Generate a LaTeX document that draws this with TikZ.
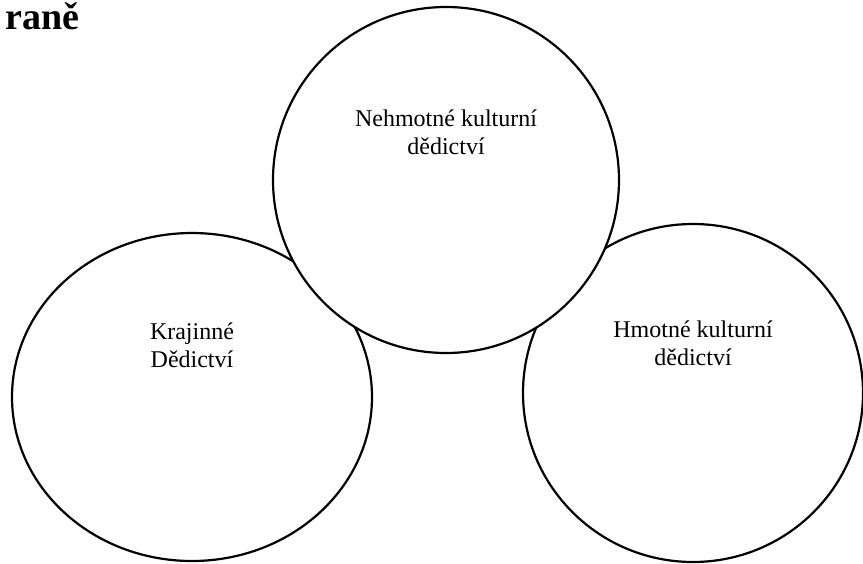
\documentclass[tikz,border=0pt]{standalone}
\usepackage{fontspec}
\setmainfont{Liberation Serif}
\begin{document}
\begin{tikzpicture}[x=1pt, y=-1pt,
	kruh/.style={line width=2.2pt, fill=white},
	popis/.style={align=center, font=\fontsize{24}{28}\selectfont}]

\useasboundingbox (0,0) rectangle (863,563);

\node [anchor=base east, inner sep=0pt, font=\bfseries\fontsize{38}{44}\selectfont] (nadpis) at (80, 29) {raně};

% left, right, then the top one over them
\foreach \nm/\cx/\cy/\rx/\ry/\ty/\txt in {krajinne/192/397/180/164/367/{Krajinné\\Dědictví}, hmotne/693/393/170/169/365/{Hmotné kulturní\\dědictví}, nehmotne/446/180/173/173/154/{Nehmotné kulturní\\dědictví}}
{
	\draw [kruh] (\cx, \cy) ellipse ({\rx pt} and {\ry pt});
	\node [popis, anchor=base] (\nm) at (\cx, \ty) {\txt};
}
\end{tikzpicture}
\end{document}
